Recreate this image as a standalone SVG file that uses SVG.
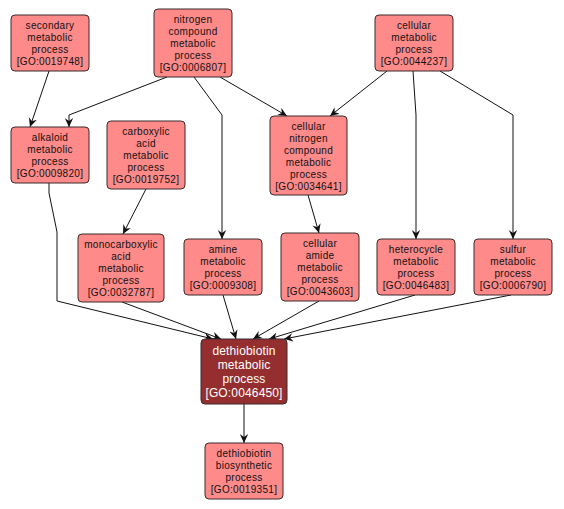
<svg xmlns="http://www.w3.org/2000/svg" width="564" height="509" viewBox="0 0 564 509">
<defs>
<style>
.n rect{fill:#fe8a8a;stroke:#3a2a2a;stroke-width:1}
.n text{font-family:"Liberation Sans",Arial,sans-serif;font-size:10px;letter-spacing:0.3px;fill:#111;text-anchor:middle}
.d rect{fill:#952f2f;stroke:#3a2a2a;stroke-width:1}
.d text{font-family:"Liberation Sans",Arial,sans-serif;font-size:12px;letter-spacing:0.15px;fill:#fff;text-anchor:middle}
.e polyline{fill:none;stroke:#111;stroke-width:1;marker-end:url(#ah)}
</style>
<marker id="ah" viewBox="-9 -4.5 9 9" refX="0" refY="0" markerWidth="9" markerHeight="9" markerUnits="userSpaceOnUse" orient="auto">
<path d="M0,0 L-9,-4.2 L-6,0 L-9,4.2 Z" fill="#111"/>
</marker>
</defs>
<rect width="564" height="509" fill="#fff"/>
<g id="edges" class="e">
<polyline points="49,71 30,127"/>
<polyline points="167,77 69,115 69,127"/>
<polyline points="194,77 222,115 222,239"/>
<polyline points="220,77 287,116"/>
<polyline points="387,71 330,116"/>
<polyline points="413,71 416,115 416,239"/>
<polyline points="440,71 513,115 513,239"/>
<polyline points="146,189 123,234"/>
<polyline points="308,195 319,233"/>
<polyline points="49,183 49,193 57,232 57,301 213,339"/>
<polyline points="122,302 221,339"/>
<polyline points="223,295 236,339"/>
<polyline points="319,301 253,339"/>
<polyline points="415,295 269,339"/>
<polyline points="511,295 284,339"/>
<polyline points="244,404 244,443"/>
</g>
<g id="n_secondary" class="n"><rect x="11" y="15" width="78" height="56" rx="4"/><text x="50" y="29">secondary</text><text x="50" y="41">metabolic</text><text x="50" y="53">process</text><text x="50" y="65">[GO:0019748]</text></g>
<g id="n_nitrogen" class="n"><rect x="154" y="9" width="78" height="68" rx="4"/><text x="193" y="23">nitrogen</text><text x="193" y="35">compound</text><text x="193" y="47">metabolic</text><text x="193" y="59">process</text><text x="193" y="71">[GO:0006807]</text></g>
<g id="n_cellular" class="n"><rect x="375" y="15" width="78" height="56" rx="4"/><text x="414" y="29">cellular</text><text x="414" y="41">metabolic</text><text x="414" y="53">process</text><text x="414" y="65">[GO:0044237]</text></g>
<g id="n_alkaloid" class="n"><rect x="11" y="127" width="78" height="56" rx="4"/><text x="50" y="141">alkaloid</text><text x="50" y="153">metabolic</text><text x="50" y="165">process</text><text x="50" y="177">[GO:0009820]</text></g>
<g id="n_carboxylic" class="n"><rect x="107" y="121" width="78" height="68" rx="4"/><text x="146" y="135">carboxylic</text><text x="146" y="147">acid</text><text x="146" y="159">metabolic</text><text x="146" y="171">process</text><text x="146" y="183">[GO:0019752]</text></g>
<g id="n_cellnitrogen" class="n"><rect x="270" y="116" width="77" height="79" rx="4"/><text x="308.5" y="129.5">cellular</text><text x="308.5" y="141.5">nitrogen</text><text x="308.5" y="153.5">compound</text><text x="308.5" y="165.5">metabolic</text><text x="308.5" y="177.5">process</text><text x="308.5" y="189.5">[GO:0034641]</text></g>
<g id="n_monocarboxylic" class="n"><rect x="78" y="234" width="86" height="68" rx="4"/><text x="121" y="248">monocarboxylic</text><text x="121" y="260">acid</text><text x="121" y="272">metabolic</text><text x="121" y="284">process</text><text x="121" y="296">[GO:0032787]</text></g>
<g id="n_amine" class="n"><rect x="184" y="239" width="78" height="56" rx="4"/><text x="223" y="253">amine</text><text x="223" y="265">metabolic</text><text x="223" y="277">process</text><text x="223" y="289">[GO:0009308]</text></g>
<g id="n_amide" class="n"><rect x="281" y="233" width="78" height="68" rx="4"/><text x="320" y="247">cellular</text><text x="320" y="259">amide</text><text x="320" y="271">metabolic</text><text x="320" y="283">process</text><text x="320" y="295">[GO:0043603]</text></g>
<g id="n_heterocycle" class="n"><rect x="377" y="239" width="78" height="56" rx="4"/><text x="416" y="253">heterocycle</text><text x="416" y="265">metabolic</text><text x="416" y="277">process</text><text x="416" y="289">[GO:0046483]</text></g>
<g id="n_sulfur" class="n"><rect x="474" y="239" width="78" height="56" rx="4"/><text x="513" y="253">sulfur</text><text x="513" y="265">metabolic</text><text x="513" y="277">process</text><text x="513" y="289">[GO:0006790]</text></g>
<g id="n_dethiobiotin" class="d"><rect x="201" y="339" width="86" height="65" rx="4"/><text x="244" y="355.3">dethiobiotin</text><text x="244" y="369.3">metabolic</text><text x="244" y="383.3">process</text><text x="244" y="397.3">[GO:0046450]</text></g>
<g id="n_biosynthetic" class="n"><rect x="205" y="443" width="78" height="56" rx="4"/><text x="244" y="457">dethiobiotin</text><text x="244" y="469">biosynthetic</text><text x="244" y="481">process</text><text x="244" y="493">[GO:0019351]</text></g>
</svg>
